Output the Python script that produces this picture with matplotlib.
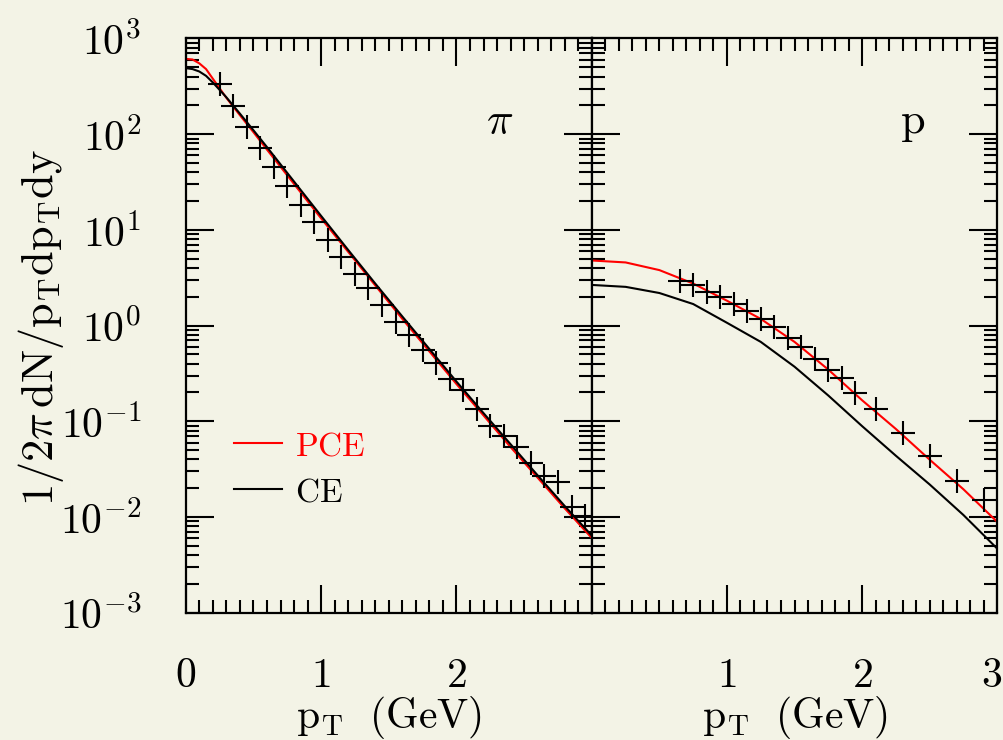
import matplotlib
matplotlib.use('Agg')
import matplotlib.pyplot as plt
import matplotlib.transforms as mtransforms
from matplotlib.ticker import FixedLocator, FixedFormatter, MultipleLocator, LogLocator, NullFormatter

plt.rcParams['mathtext.fontset'] = 'cm'
plt.rcParams['font.family'] = 'serif'

BG = '#f3f3e6'

# pion spectrum: data points
pi_pt = [0.25, 0.35, 0.45, 0.55, 0.65, 0.75, 0.85, 0.95, 1.05, 1.15, 1.25, 1.35, 1.45, 1.55,
         1.65, 1.75, 1.85, 1.95, 2.05, 2.15, 2.25, 2.35, 2.45, 2.55, 2.65, 2.75, 2.85, 2.95]
pi_data = [336, 195, 118, 72, 45, 29, 18.4, 12.0, 7.9, 5.2, 3.5, 2.5, 1.66, 1.10,
           0.80, 0.56, 0.41, 0.28, 0.21, 0.135, 0.090, 0.071, 0.054, 0.037, 0.027, 0.023, 0.0126, 0.0103]

# pion spectrum: model curves
pi_curve_pt = [0.0, 0.05, 0.1, 0.15, 0.2, 0.3, 0.4, 0.5, 0.6, 0.8, 1.0, 1.2, 1.4, 1.6,
               1.8, 2.0, 2.2, 2.4, 2.6, 2.8, 3.0]
pi_pce = [612, 603, 550, 479, 380, 240, 158, 105, 69, 30.2, 13.2, 5.9, 2.63, 1.175,
          0.537, 0.245, 0.115, 0.0537, 0.0257, 0.0123, 0.00603]
pi_ce = [490, 479, 452, 407, 347, 243, 164, 110, 73.3, 32, 14.0, 6.17, 2.75, 1.245,
         0.569, 0.260, 0.1216, 0.0575, 0.0272, 0.0130, 0.00638]

# proton spectrum: data points
p_pt = [0.65, 0.75, 0.85, 0.95, 1.05, 1.15, 1.25, 1.35, 1.45, 1.55, 1.65, 1.75, 1.85, 1.95,
        2.1, 2.3, 2.5, 2.7, 2.9]
p_data = [2.90, 2.66, 2.26, 1.98, 1.69, 1.41, 1.17, 0.975, 0.736, 0.593, 0.449, 0.347, 0.284, 0.196,
          0.135, 0.0755, 0.0431, 0.0240, 0.0151]

# proton spectrum: model curves
p_curve_pt = [0.0, 0.25, 0.5, 0.75, 1.0, 1.25, 1.5, 1.75, 2.0, 2.25, 2.5, 2.75, 3.0]
p_pce = [4.79, 4.57, 3.80, 2.75, 1.82, 1.175, 0.676, 0.347, 0.166, 0.0832, 0.0398, 0.0195, 0.00891]
p_ce = [2.66, 2.54, 2.19, 1.68, 1.07, 0.676, 0.372, 0.186, 0.0891, 0.0437, 0.0219, 0.0105, 0.00468]

y_ticks = [1e-3, 1e-2, 1e-1, 1e0, 1e1, 1e2, 1e3]
y_ticklabels = [r'$\mathrm{10^{-3}}$', r'$\mathrm{10^{-2}}$', r'$\mathrm{10^{-1}}$', r'$\mathrm{10^{0}}$',
                r'$\mathrm{10^{1}}$', r'$\mathrm{10^{2}}$', r'$\mathrm{10^{3}}$']

fig = plt.figure(figsize=(10.04, 7.4), dpi=100, facecolor=BG)
ax1 = fig.add_axes([0.185, 0.172, 0.4045, 0.776])
ax2 = fig.add_axes([0.5895, 0.172, 0.4037, 0.776])


def style(ax, xticks, xlabels, ylabels):
    ax.set_facecolor(BG)
    ax.set_yscale('log')
    ax.set_ylim(1e-3, 1e3)
    ax.set_xlim(0, 3)
    for s in ax.spines.values():
        s.set_linewidth(1.6)
    ax.yaxis.set_major_locator(FixedLocator(y_ticks))
    ax.yaxis.set_minor_locator(LogLocator(base=10, subs=range(2, 10), numticks=20))
    ax.yaxis.set_minor_formatter(NullFormatter())
    ax.tick_params(which='both', direction='in', top=True, right=True, width=1.5, colors='black')
    ax.tick_params(which='major', length=20)
    ax.tick_params(which='minor', length=9.5)
    ax.tick_params(axis='x', labelsize=30, pad=30)
    ax.tick_params(axis='y', labelsize=30, pad=32)
    ax.set_xticks(xticks)
    ax.set_xticklabels(xlabels)
    ax.xaxis.set_minor_locator(MultipleLocator(0.1))
    if ylabels:
        ax.yaxis.set_major_formatter(FixedFormatter(y_ticklabels))
    else:
        ax.tick_params(axis='y', labelleft=False)
    ax.set_xlabel(r'$\mathrm{p_{T}\ \ (GeV)}$', fontsize=30, labelpad=-2)


# left panel: pions
ax1.plot(pi_curve_pt, pi_pce, color='red', lw=1.5, label='PCE')
ax1.plot(pi_curve_pt, pi_ce, color='black', lw=1.5, label='CE')
ax1.plot(pi_pt, pi_data, ls='none', marker='+', ms=17, mew=1.5, color='black')
style(ax1, [0, 1, 2, 3], [r'$\mathrm{0}$', r'$\mathrm{1}$', r'$\mathrm{2}$', ''], True)
ax1.text(0.772, 0.833, r'$\pi$', transform=ax1.transAxes, fontsize=32, ha='center', va='baseline')
leg = ax1.legend(loc='upper left', bbox_to_anchor=(0.119, 0.318), frameon=False,
                 handlelength=1.45, handletextpad=0.37, labelspacing=0.42, borderpad=0, borderaxespad=0,
                 labelcolor=['red', 'black'], prop={'family': 'serif', 'size': 24})
for t in leg.get_texts():
    t.set_text(r'$\mathrm{' + t.get_text() + '}$')

# right panel: protons
ax2.plot(p_curve_pt, p_pce, color='red', lw=1.5)
ax2.plot(p_curve_pt, p_ce, color='black', lw=1.5)
ax2.plot(p_pt, p_data, ls='none', marker='+', ms=17, mew=1.5, color='black')
style(ax2, [0, 1, 2, 3], ['', r'$\mathrm{1}$', r'$\mathrm{2}$', r'$\mathrm{3}$'], False)
ax2.text(0.792, 0.835, r'$\mathrm{p}$', transform=ax2.transAxes, fontsize=32, ha='center', va='baseline')

# nudge the last tick label so it stays inside the figure
lab3 = ax2.get_xticklabels()[-1]
lab3.set_transform(lab3.get_transform() + mtransforms.ScaledTranslation(-6 / 100, 0, fig.dpi_scale_trans))

fig.text(0.041, 1 - 328 / 740, r'$\mathrm{1/2\pi\,dN/p_{T}dp_{T}dy}$', rotation=90,
         fontsize=32, ha='center', va='center')

plt.savefig('out.png', dpi=100, facecolor=BG)
